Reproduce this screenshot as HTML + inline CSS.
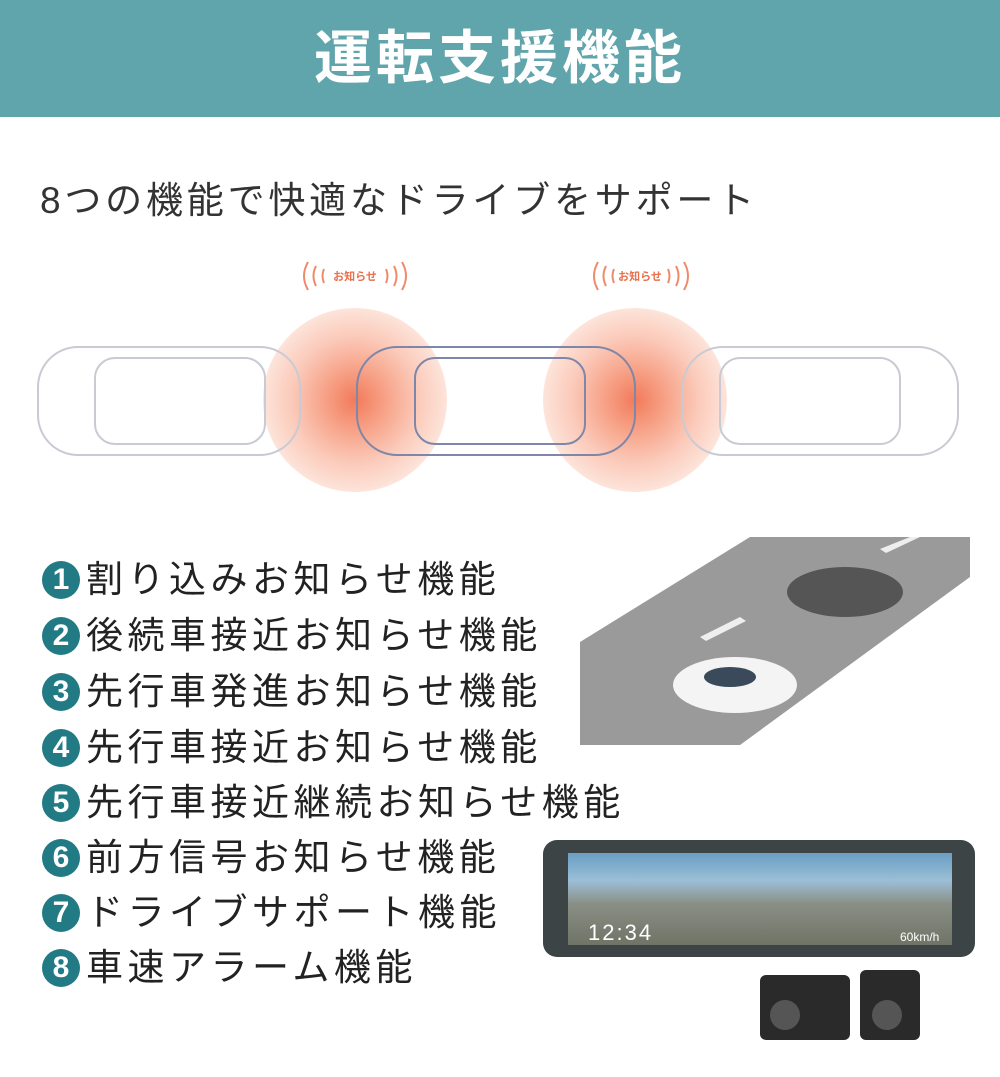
<!DOCTYPE html>
<html><head><meta charset="utf-8"><style>
body{margin:0;width:1000px;height:1077px;background:#fff;position:relative;overflow:hidden;font-family:"Liberation Sans","Noto Sans CJK JP",sans-serif;}
.hd{position:absolute;left:0;top:0;width:1000px;height:117px;background:#60a5ab;color:#fff;font-size:58px;font-weight:bold;text-align:center;line-height:117px;letter-spacing:4px;}
.sub{position:absolute;left:40px;top:170px;font-size:37px;color:#333;letter-spacing:3.8px;}
.li{position:absolute;left:42px;font-size:37px;color:#222;height:50px;line-height:50px;letter-spacing:4.5px;white-space:nowrap;}
.li b{display:inline-block;width:38px;height:38px;border-radius:50%;background:#217a84;color:#fff;font-size:30px;line-height:38px;text-align:center;margin-right:6px;vertical-align:3px;font-weight:bold;letter-spacing:0;}
.ab{position:absolute;}
</style></head><body>
<div class="hd">運転支援機能</div>
<div class="sub">8つの機能で快適なドライブをサポート</div>
<svg class="ab" style="left:0;top:250px" width="1000" height="260">
<defs><radialGradient id="g"><stop offset="0" stop-color="#f27a5a"/><stop offset="0.35" stop-color="#f7a48a"/><stop offset="0.7" stop-color="#fbcbbb"/><stop offset="1" stop-color="#fde4da"/></radialGradient></defs>
<circle cx="355" cy="150" r="92" fill="url(#g)"/><circle cx="635" cy="150" r="92" fill="url(#g)"/>
<g fill="none" stroke="#f08a6a" stroke-width="2">
<text x="355" y="30" font-size="11" fill="#e8704c" stroke="none" text-anchor="middle" font-weight="bold">お知らせ</text>
<text x="640" y="30" font-size="11" fill="#e8704c" stroke="none" text-anchor="middle" font-weight="bold">お知らせ</text>
<path d="M308 12q-8 14 0 28M316 16q-5 10 0 20M324 19q-3 7 0 14M402 12q8 14 0 28M394 16q5 10 0 20M386 19q3 7 0 14"/>
<path d="M598 12q-8 14 0 28M606 16q-5 10 0 20M614 19q-3 7 0 14M684 12q8 14 0 28M676 16q5 10 0 20M668 19q3 7 0 14"/>
</g>
<g fill="none" stroke="#c8cbd3" stroke-width="2">
<rect x="38" y="97" width="262" height="108" rx="40"/><rect x="95" y="108" width="170" height="86" rx="20"/>
<rect x="683" y="97" width="275" height="108" rx="40"/><rect x="720" y="108" width="180" height="86" rx="20"/>
</g>
<g fill="none" stroke="#7f86a8" stroke-width="2">
<rect x="357" y="97" width="278" height="108" rx="40"/><rect x="415" y="108" width="170" height="86" rx="20"/>
</g>
</svg>
<svg class="ab" style="left:580px;top:537px" width="390" height="208">
<rect width="390" height="208" fill="#9a9a9a"/>
<polygon points="0,0 170,0 0,105" fill="#fff"/><polygon points="160,208 390,208 390,40" fill="#fff"/>
<g fill="#eee"><polygon points="120,100 160,80 166,84 126,104"/><polygon points="220,50 260,30 266,34 226,54"/><polygon points="300,12 330,0 340,0 306,16"/></g>
<ellipse cx="265" cy="55" rx="58" ry="25" fill="#555"/>
<ellipse cx="155" cy="148" rx="62" ry="28" fill="#f4f4f4"/><ellipse cx="150" cy="140" rx="26" ry="10" fill="#3a4a5a"/>
</svg>
<div class="ab" style="left:543px;top:840px;width:432px;height:117px;border-radius:14px;background:#3c4446;"></div>
<div class="ab" style="left:568px;top:853px;width:384px;height:92px;background:linear-gradient(#6a9ec4,#9bbfd6 30%,#8a8f86 55%,#6f7466);"></div>
<div class="ab" style="left:588px;top:920px;color:#fff;font-size:22px;letter-spacing:2px">12:34</div>
<div class="ab" style="left:900px;top:930px;color:#fff;font-size:12px">60km/h</div>
<div class="ab" style="left:760px;top:975px;width:90px;height:65px;background:#2a2a2a;border-radius:6px"></div>
<div class="ab" style="left:860px;top:970px;width:60px;height:70px;background:#2a2a2a;border-radius:6px"></div>
<div class="ab" style="left:770px;top:1000px;width:30px;height:30px;border-radius:50%;background:#555"></div>
<div class="ab" style="left:872px;top:1000px;width:30px;height:30px;border-radius:50%;background:#555"></div>
<div class="li" style="top:555px"><b>1</b>割り込みお知らせ機能</div>
<div class="li" style="top:611px"><b>2</b>後続車接近お知らせ機能</div>
<div class="li" style="top:667px"><b>3</b>先行車発進お知らせ機能</div>
<div class="li" style="top:723px"><b>4</b>先行車接近お知らせ機能</div>
<div class="li" style="top:778px"><b>5</b>先行車接近継続お知らせ機能</div>
<div class="li" style="top:833px"><b>6</b>前方信号お知らせ機能</div>
<div class="li" style="top:888px"><b>7</b>ドライブサポート機能</div>
<div class="li" style="top:943px"><b>8</b>車速アラーム機能</div>
</body></html>
